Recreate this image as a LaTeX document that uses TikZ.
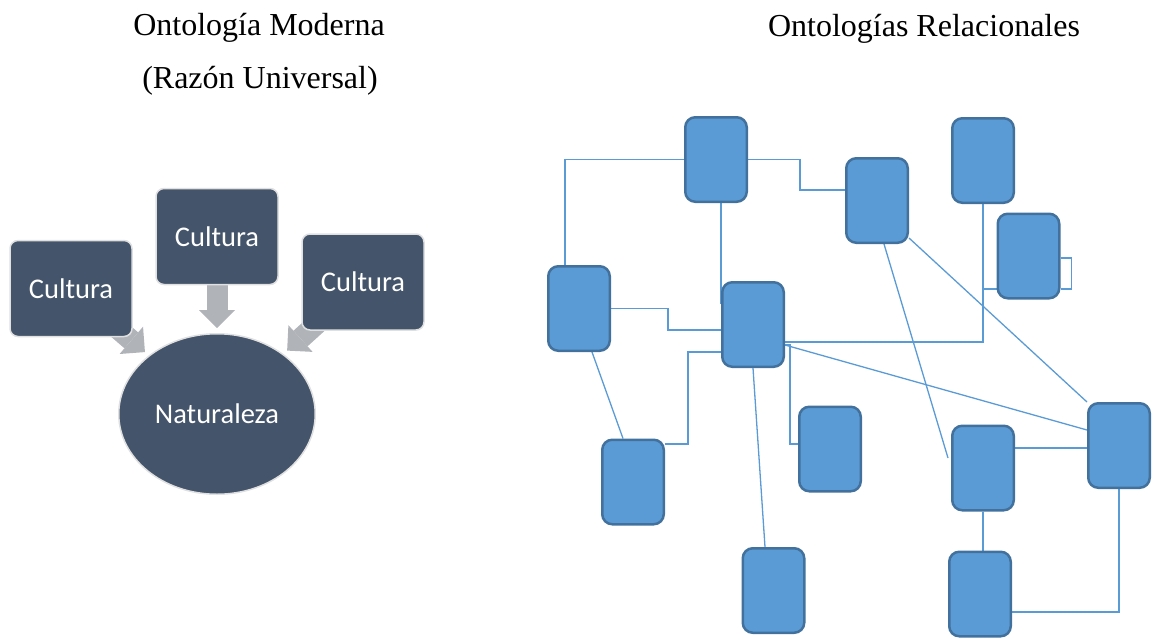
\documentclass[tikz,border=0pt]{standalone}
\usepackage{fontspec}
\setmainfont{Liberation Serif}
\newfontfamily\calibri{Carlito}
\usepackage{tikz}
\usetikzlibrary{arrows.meta,positioning,shapes,calc}
\pgfdeclarelayer{bg}
\pgfsetlayers{bg,main}
\definecolor{slate}{HTML}{44546A}
\definecolor{arrowgray}{HTML}{B0B3B8}
\definecolor{boxblue}{HTML}{5B9BD5}
\definecolor{boxedge}{HTML}{41719C}

\begin{document}
\begin{tikzpicture}[x = 1pt, y = -1pt,
    title/.style = {anchor = base, font = \fontsize{32}{38}\selectfont},
    cult/.style = {draw = white!88!black, line width = 1.5pt, fill = slate, rounded corners = 8pt,
        minimum width = 122pt, minimum height = 96pt, text = white, font = \calibri\fontsize{28.5}{34}\selectfont},
    nature/.style = {ellipse, draw = white!88!black, line width = 1.5pt, fill = slate, inner sep = 0pt,
        minimum width = 196.5pt, minimum height = 160.5pt, text = white, font = \calibri\fontsize{28.5}{34}\selectfont},
    bigarrow/.style = {arrowgray, line width = 21pt, shorten >= 5pt,
        -{Triangle[length = 18pt, width = 36pt, line width = 0pt]}},
    box/.style = {draw = boxedge, fill = boxblue, line width = 2.5pt, rounded corners = 10pt,
        minimum width = 61.5pt, minimum height = 84.5pt, inner sep = 0pt},
    link/.style = {draw = boxblue, line width = 1.3pt}]
    \useasboundingbox (0,0) rectangle (1157,638);
    % Titles
    \node[title] (tmod) at (259,35) {Ontología Moderna};
    \node[title] (tuni) at (260,88) {(Razón Universal)};
    \node[title] (trel) at (924,36) {Ontologías Relacionales};
    % Modern ontology
    \node[cult] (cult1) at (71,288.5) {Cultura};
    \node[cult] (cult2) at (217,236.5) {Cultura};
    \node[cult] (cult3) at (363,282) {Cultura};
    \node[nature] (nat) at (217,414) {Naturaleza};
    \begin{pgfonlayer}{bg}
        \draw[bigarrow] (cult1.center) -- (nat);
        \draw[bigarrow] (cult2.center) -- (nat);
        \draw[bigarrow] (cult3.center) -- (nat);
    \end{pgfonlayer}
    % Relational ontologies
    \node[box] (b1) at (716,159.5) {};
    \node[box] (b2) at (877,200.5) {};
    \node[box] (b3) at (983,160.5) {};
    \node[box] (b4) at (1028.5,256) {};
    \node[box] (b5) at (579,308.5) {};
    \node[box] (b6) at (753,324.5) {};
    \node[box] (b7) at (633,482) {};
    \node[box] (b8) at (830,449) {};
    \node[box] (b9) at (773.5,590.5) {};
    \node[box] (b10) at (983,468) {};
    \node[box] (b11) at (1119,445.5) {};
    \node[box] (b12) at (980,594) {};
    \coordinate (f1) at ([yshift=-33pt]b4.west);
    \begin{pgfonlayer}{bg}
        % elbow links
        \draw[link] (b1.west) -| ([xshift=-14pt]b5.north);
        \draw[link] (b1.east) -- ++(52,0) |- ([yshift=10.5pt]b2.west);
        \draw[link] (b1.south -| b6.west) -- ([yshift=20.5pt]b6.west);
        \draw[link] (b5.east) -- ++(57,0) |- ([yshift=-5.5pt]b6.west);
        \draw[link] ([yshift=-27.5pt]b6.west) -- ++(-33,0) |- ([yshift=38pt]b7.east);
        \draw[link] ([yshift=-20.5pt]b6.east) -- ++(5,0) |- ([yshift=5pt]b8.west);
        \draw[link] ([yshift=-17.5pt]b6.east) -| (b3.south);
        \draw[link] (f1 -| b3.south) -- (f1);
        \draw[link] ([yshift=-2pt]b4.east) -- ++(11,0) |- ([yshift=-33pt]b4.east);
        \draw[link] ([yshift=20pt]b10.east) -- ([yshift=-2.5pt]b11.west);
        \draw[link] (b10.south) -- (b10.south |- b12.north);
        \draw[link] (b11.south) |- ([yshift=-18pt]b12.east);
        % straight links
        \draw[link] ([xshift=13pt]b5.south) -- ([xshift=-10pt]b7.north);
        \draw[link] (b6.south) -- ([xshift=-8.5pt]b9.north);
        \draw[link] ([yshift=-20.5pt]b6.east) -- ([yshift=15.5pt]b11.west);
        \draw[link] ([xshift=7pt]b2.south) -- ([xshift=-3pt,yshift=10pt]b10.west);
        \draw[link] ([yshift=6pt]b2.south east) -- (b11.north west);
    \end{pgfonlayer}
\end{tikzpicture}
\end{document}
